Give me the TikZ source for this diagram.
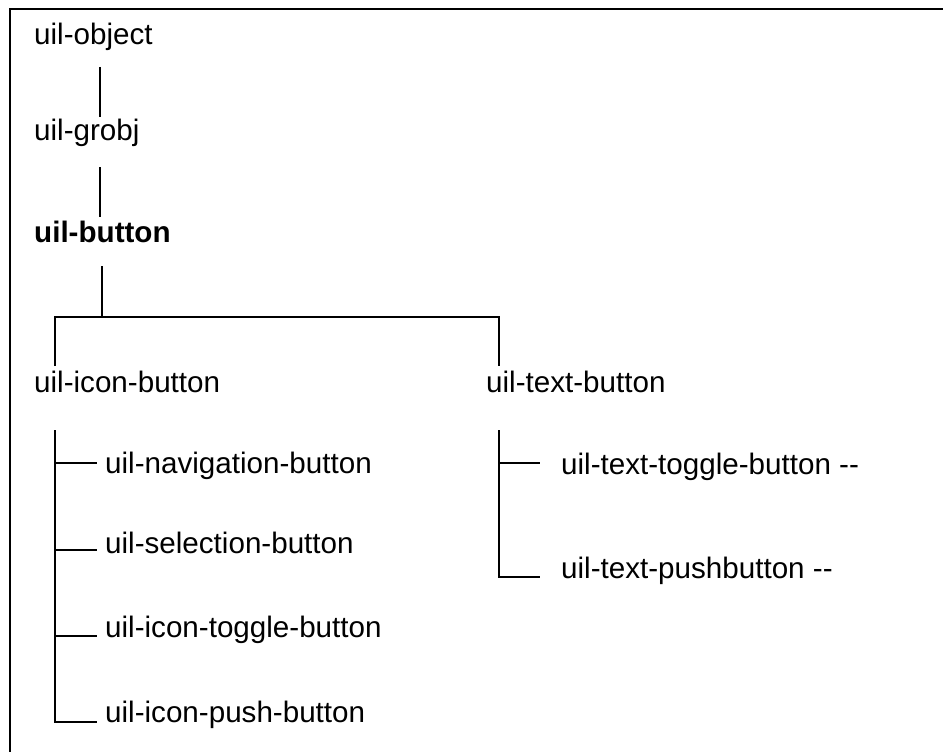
\documentclass[tikz,border=0pt]{standalone}
\usepackage{fontspec}
\setmainfont{Liberation Sans}
\usetikzlibrary{positioning}

\tikzset{
  cls/.style={inner sep=0pt, anchor=base west, font=\fontsize{29.6}{34}\selectfont},
  link/.style={line width=1.6pt},
}

\begin{document}
\begin{tikzpicture}[x=1pt, y=-1pt]
          \useasboundingbox (0,0) rectangle (943,752);
          \draw[line width=2pt] (943,9) -- (10,9) -- (10,752);

          \node[cls] (obj) at (34, 45) {uil-object};
          \node[cls] (grobj) at (34, 140) {uil-grobj};
          \node[cls, font=\fontsize{29.6}{34}\selectfont\bfseries] (btn) at (34, 242) {uil-button};

          \node[cls] (icon) at (34, 392) {uil-icon-button};
          \node[cls] (text) at (486, 392) {uil-text-button};

          \node[cls] (nav) at (105, 473) {uil-navigation-button};
          \node[cls] (sel) at (105, 553) {uil-selection-button};
          \node[cls] (itog) at (105, 637) {uil-icon-toggle-button};
          \node[cls] (ipush) at (105, 722) {uil-icon-push-button};

          \node[cls] (ttog) at (561, 474) {uil-text-toggle-button -{}-};
          \node[cls] (tpush) at (561, 578) {uil-text-pushbutton -{}-};

          \coordinate (a1) at (100, 67);
          \coordinate (a2) at (100, 117);
          \coordinate (b1) at (100, 167);
          \coordinate (b2) at (100, 217);
          \coordinate (c1) at (102, 266);
          \coordinate (c2) at (102, 317);

          \coordinate (l0) at (55, 317);
          \coordinate (l1) at (55, 366);
          \coordinate (r0) at (499, 317);
          \coordinate (r1) at (499, 366);

          \coordinate (lt) at (55, 430);
          \coordinate (l2) at (55, 463);
          \coordinate (l3) at (55, 550);
          \coordinate (l4) at (55, 636);
          \coordinate (l5) at (55, 722);

          \coordinate (rt) at (499, 430);
          \coordinate (r2) at (499, 463);
          \coordinate (r3) at (499, 577);

          \draw[link] (a1) -- (a2);
          \draw[link] (b1) -- (b2);
          \draw[link] (c1) -- (c2);
          \draw[link] (l1) -- (l0) -- (r0) -- (r1);

          \draw[link, shorten >=8pt] (lt) -- (l5) -- (l5 -| ipush.west);
          \foreach \t/\n in {l2/nav, l3/sel, l4/itog}
            \draw[link, shorten >=8pt] (\t) -- (\t -| \n.west);

          \draw[link, shorten >=21pt] (rt) -- (r3) -- (r3 -| tpush.west);
          \draw[link, shorten >=21pt] (r2) -- (r2 -| ttog.west);

        \end{tikzpicture}
\end{document}
